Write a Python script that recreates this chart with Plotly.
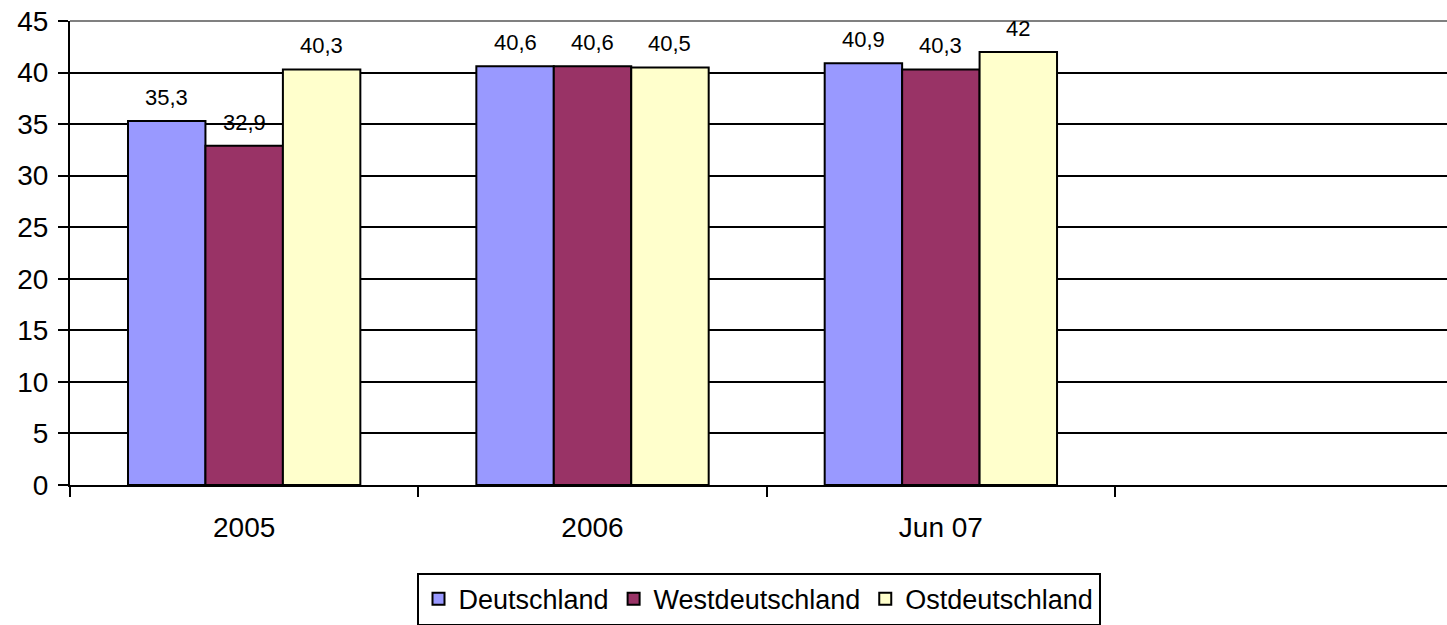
import plotly.graph_objects as go

categories = ["2005", "2006", "Jun 07"]
deutschland = [35.3, 40.6, 40.9]
westdeutschland = [32.9, 40.6, 40.3]
ostdeutschland = [40.3, 40.5, 42.0]
series_names = ["Deutschland", "Westdeutschland", "Ostdeutschland"]
colors = ["#9999FF", "#993366", "#FFFFCC"]
y_ticks = [0, 5, 10, 15, 20, 25, 30, 35, 40, 45]

W, H = 1447, 625
ML, MR, MT, MB = 70, 0, 21, 140
X_RANGE = [-0.5, 3.453]
BARGAP = 0.333


def fmt(v):
    s = ("%.1f" % v).rstrip("0").rstrip(".")
    return s.replace(".", ",")


FONT = "Liberation Sans, Arial, sans-serif"
all_series = [deutschland, westdeutschland, ostdeutschland]

fig = go.Figure()
for name, vals, col in zip(series_names, all_series, colors):
    fig.add_trace(go.Bar(
        x=categories, y=vals, name=name,
        marker=dict(color=col, line=dict(color="black", width=2)),
    ))

# data labels above bars
px_per_cat = (W - ML - MR) / (X_RANGE[1] - X_RANGE[0])
bar_px = px_per_cat * (1 - BARGAP) / len(all_series)
annotations = []
for i, vals in enumerate(all_series):
    for ci, v in enumerate(vals):
        annotations.append(dict(
            x=ci, y=v, xref="x", yref="y", text=fmt(v), showarrow=False,
            xanchor="center", yanchor="bottom", yshift=9,
            xshift=(i - (len(all_series) - 1) / 2) * bar_px,
            font=dict(family=FONT, size=22, color="black"),
        ))

fig.update_layout(
    width=W, height=H,
    margin=dict(l=ML, r=MR, t=MT, b=MB, autoexpand=False),
    paper_bgcolor="white", plot_bgcolor="white",
    barmode="group", bargap=BARGAP, bargroupgap=0,
    font=dict(family=FONT, size=28, color="black"),
    showlegend=True,
    legend=dict(orientation="h", x=0.5, xanchor="center", y=-0.189, yanchor="top",
                bordercolor="black", borderwidth=2, font=dict(size=27),
                traceorder="normal", itemwidth=30, tracegroupgap=0),
    xaxis=dict(type="category", categoryorder="array", categoryarray=categories,
               range=X_RANGE, showline=True, linecolor="black", linewidth=2,
               ticks="outside", tickson="boundaries", ticklen=10, tickwidth=1.5,
               tickcolor="black", showgrid=False, ticklabelstandoff=16,
               tickfont=dict(size=28)),
    yaxis=dict(range=[0, 45], tickvals=y_ticks, showline=True, linecolor="black",
               linewidth=2, ticks="outside", ticklen=10, tickwidth=1.5, tickcolor="black",
               showgrid=True, gridcolor="black", gridwidth=1.5, zeroline=False,
               ticklabelstandoff=4, tickfont=dict(size=28)),
    shapes=[dict(type="line", xref="paper", yref="paper", x0=0, x1=1, y0=1, y1=1,
                 line=dict(color="#808080", width=2), layer="above")],
    annotations=annotations,
)

fig.write_html("out.html", config={"displayModeBar": False},
               post_script="document.body.style.margin='0';")
